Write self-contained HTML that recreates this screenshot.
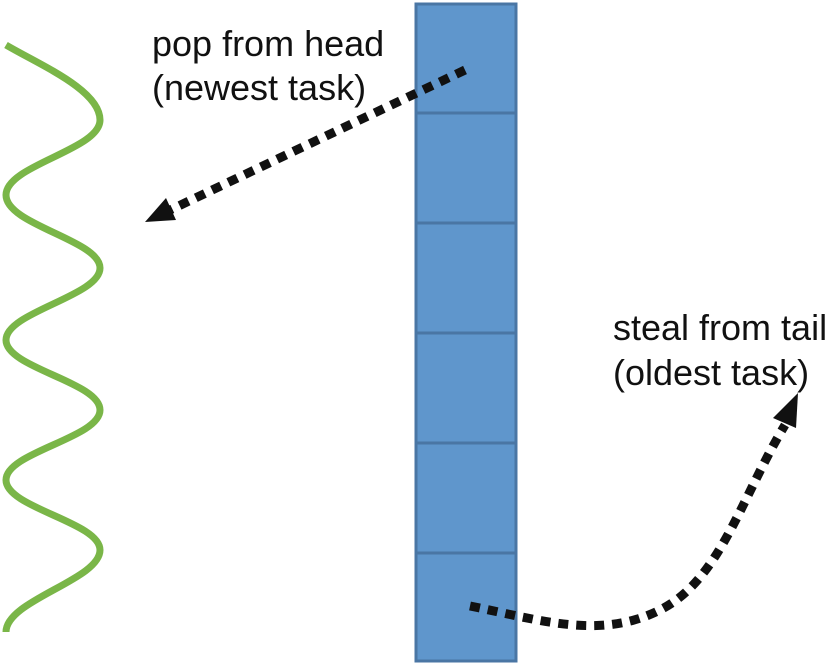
<!DOCTYPE html>
<html><head><style>
html,body{margin:0;padding:0;background:#fff;}
svg{display:block;}
text{font-family:"Liberation Sans","DejaVu Sans",sans-serif;font-size:36px;fill:#111;}
</style></head><body>
<svg width="838" height="663" viewBox="0 0 838 663">
  <path d="M6,45 C40,65 100,90 100,120 C100,150 6,165 6,195 C6,225 100,240 100,268 C100,296 6,312 6,340 C6,368 100,382 100,410 C100,438 6,452 6,480 C6,508 100,522 100,550 C100,580 6,600 6,632" fill="none" stroke="#7ab648" stroke-width="7"/>
  <g>
    <rect x="416" y="4" width="100" height="657" fill="#5f96cc" stroke="#4a76a4" stroke-width="3"/>
    <g stroke="#4a76a4" stroke-width="3">
      <line x1="416" y1="113" x2="516" y2="113"/>
      <line x1="416" y1="223" x2="516" y2="223"/>
      <line x1="416" y1="333" x2="516" y2="333"/>
      <line x1="416" y1="443" x2="516" y2="443"/>
      <line x1="416" y1="553" x2="516" y2="553"/>
    </g>
  </g>
  <line x1="465" y1="70" x2="168" y2="211" stroke="#111" stroke-width="9" stroke-dasharray="10,8"/>
  <path d="M145,222 L166,198 L176,220 Z" fill="#111"/>
  <path d="M470,606 C540,620 600,640 660,610 C720,580 740,500 785,425" fill="none" stroke="#111" stroke-width="9" stroke-dasharray="10,8"/>
  <path d="M798,393 L773,418 L796,428 Z" fill="#111"/>
  <text x="152" y="56">pop from head</text>
  <text x="152" y="100">(newest task)</text>
  <text x="613" y="340">steal from tail</text>
  <text x="613" y="385">(oldest task)</text>
</svg>
</body></html>
